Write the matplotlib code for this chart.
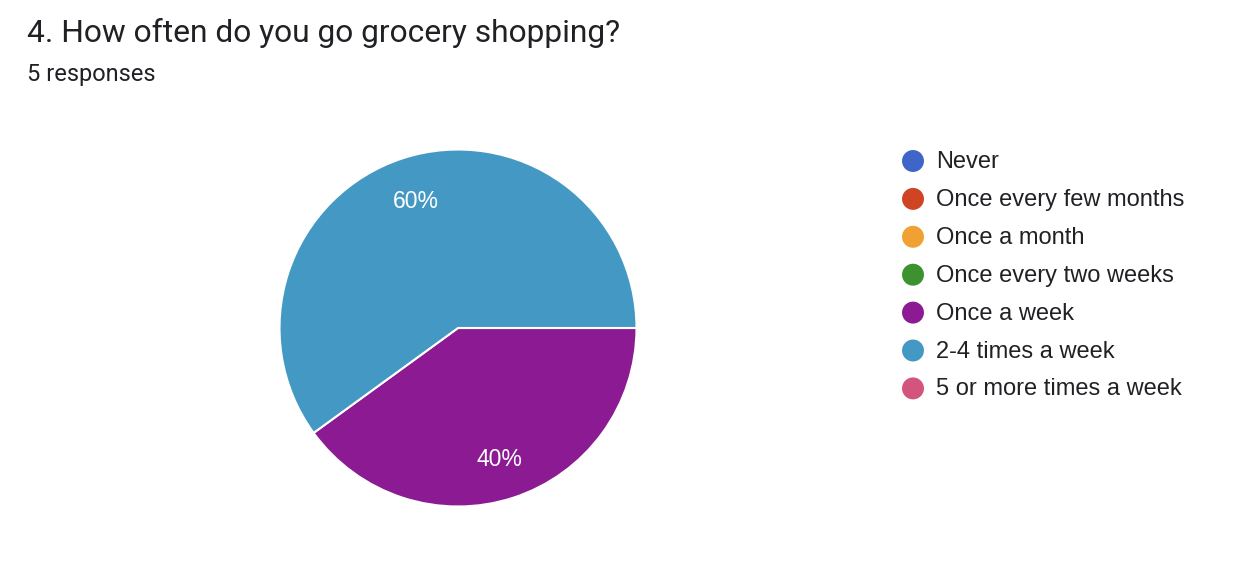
import matplotlib
matplotlib.use("Agg")
import matplotlib.pyplot as plt

title = "4. How often do you go grocery shopping?"
subtitle = "5 responses"
categories = ["Never", "Once every few months", "Once a month", "Once every two weeks",
              "Once a week", "2-4 times a week", "5 or more times a week"]
values = [0, 0, 0, 0, 2, 3, 0]
colors = ["#3f65c9", "#cf4422", "#f1a033", "#3d912f", "#8b1a93", "#4499c4", "#d3547c"]

W, H = 1246, 572
fig = plt.figure(figsize=(W / 100, H / 100), dpi=100)
fig.patch.set_facecolor("white")

fig.text(27 / W, 1 - 33 / H, title, fontsize=22.9, family=["Roboto", "DejaVu Sans"],
         color="#202124", va="center", ha="left")
fig.text(27 / W, 1 - 74 / H, subtitle, fontsize=17, family=["Roboto", "DejaVu Sans"],
         color="#202124", va="center", ha="left")

# pie
cx, cy, r = 458, 328, 178.5
ax = fig.add_axes([(cx - r) / W, (H - cy - r) / H, 2 * r / W, 2 * r / H])
nz = [(c, v, col) for c, v, col in zip(categories, values, colors) if v > 0]
wedges, texts, autotexts = ax.pie(
    [v for _, v, _ in nz], colors=[col for _, _, col in nz],
    startangle=-144, counterclock=True, radius=1,
    autopct=lambda p: f"{p:.0f}%", pctdistance=0.76,
    wedgeprops=dict(edgecolor="white", linewidth=1.5),
    textprops=dict(color="white", fontsize=16.5, family=["Liberation Sans", "DejaVu Sans"]))
for t in autotexts:
    x, y = t.get_position()
    t.set_position((x, y - 0.012))
ax.set_xlim(-1.0, 1.0)
ax.set_ylim(-1.0, 1.0)
ax.axis("off")

# legend
lax = fig.add_axes([0, 0, 1, 1])
lax.set_xlim(0, W)
lax.set_ylim(H, 0)
lax.axis("off")
lx, ly0, dy = 913, 161, 37.9
ys = [ly0 + i * dy for i in range(len(categories))]
lax.scatter([lx] * len(categories), ys, s=250, c=colors, edgecolors="none")
for c, y in zip(categories, ys):
    lax.text(936, y + 1, c, fontsize=17, family=["Liberation Sans", "DejaVu Sans"],
             color="#202124", va="center", ha="left")

fig.savefig("out.png", dpi=100, facecolor="white")
